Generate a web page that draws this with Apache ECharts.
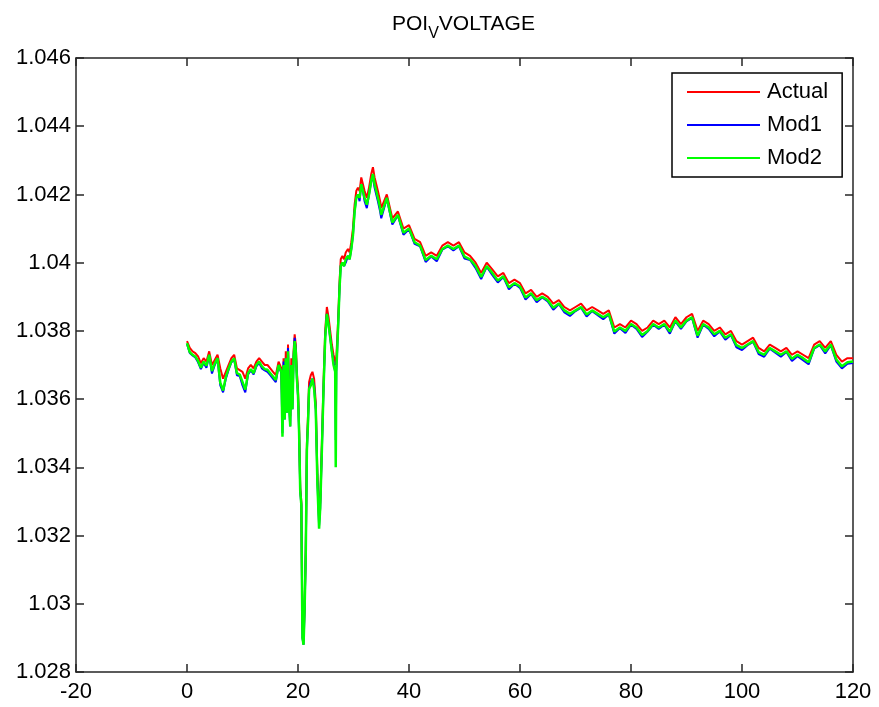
<!DOCTYPE html>
<html>
<head>
<meta charset="utf-8">
<script src="https://cdn.jsdelivr.net/npm/echarts@6/dist/echarts.min.js"></script>
<style>
  html, body { margin: 0; padding: 0; background: #fff; }
  #chart { width: 879px; height: 707px; }
</style>
</head>
<body>
<div id="chart"></div>
<script>
// time axis (s)
const timeValues = [
  0, 0.5, 1, 1.5, 2, 2.5, 3, 3.5, 4, 4.5, 5, 5.5, 6, 6.5, 7, 7.5, 8, 8.5, 9, 9.5,
  10, 10.5, 11, 11.5, 12, 12.5, 13, 13.5, 14, 14.5, 15, 15.5, 16, 16.5, 17,
  17.2, 17.4, 17.6, 17.8, 18.0, 18.2, 18.4, 18.6, 18.8, 19.0, 19.2, 19.4, 19.6, 19.8,
  20.0, 20.2, 20.4, 20.6, 20.8, 21.0, 21.2, 21.4, 21.6, 21.8, 22.0, 22.3, 22.6, 22.9,
  23.2, 23.5, 23.8, 24.0, 24.3, 24.6, 24.9, 25.2, 25.5, 25.8, 26.1, 26.4, 26.7, 26.8,
  26.9, 27.2, 27.5, 27.7, 28.0, 28.3, 28.6, 29.0, 29.3, 29.6, 29.9, 30.2, 30.5, 30.8,
  31.1, 31.4, 31.7, 32.0, 32.4, 32.8, 33.2, 33.5, 33.8, 34.1, 34.4, 34.8, 35.0,
  36, 37, 38, 39, 40, 41, 42, 43, 44, 45, 46, 47, 48, 49, 50, 51, 52, 53, 54, 55,
  56, 57, 58, 59, 60, 61, 62, 63, 64, 65, 66, 67, 68, 69, 70, 71, 72, 73, 74, 75,
  76, 77, 78, 79, 80, 81, 82, 83, 84, 85, 86, 87, 88, 89, 90, 91, 92, 93, 94, 95,
  96, 97, 98, 99, 100, 101, 102, 103, 104, 105, 106, 107, 108, 109, 110, 111, 112,
  113, 114, 115, 116, 117, 118, 119, 120
];

const actualValues = [
  1.03770, 1.03750, 1.03740, 1.03735, 1.03725, 1.03705, 1.03720, 1.03710, 1.03740, 1.03700,
  1.03715, 1.03730, 1.03690, 1.03660, 1.03680, 1.03700, 1.03720, 1.03730, 1.03690, 1.03685,
  1.03680, 1.03660, 1.03690, 1.03700, 1.03690, 1.03710, 1.03720, 1.03710, 1.03700, 1.03700,
  1.03690, 1.03680, 1.03670, 1.03710, 1.03690,
  1.0356, 1.0372, 1.0358, 1.0374, 1.0360, 1.0376, 1.0362, 1.0355, 1.0372, 1.0360, 1.0374,
  1.0379, 1.0376, 1.0368, 1.0363, 1.0352, 1.0334, 1.0330, 1.0293, 1.0290, 1.0300, 1.0316,
  1.0347, 1.0355, 1.0365, 1.0367, 1.0368, 1.0366, 1.0359, 1.0338, 1.0325, 1.0330, 1.0347,
  1.0365, 1.0380, 1.0387, 1.0384, 1.0380, 1.0376, 1.0373, 1.0371, 1.0370, 1.0372, 1.0382,
  1.0395, 1.0401, 1.0402, 1.0401, 1.0403, 1.0404, 1.0403, 1.0406, 1.0410, 1.0417, 1.0421,
  1.0422, 1.0421, 1.0425, 1.0423, 1.0421, 1.0419, 1.0422, 1.0426, 1.0428, 1.0425, 1.0423,
  1.0421, 1.0418, 1.0416,
  1.0420, 1.0413, 1.0415, 1.0410, 1.0411, 1.0407, 1.0406, 1.0402, 1.0403, 1.0402,
  1.0405, 1.0406, 1.0405, 1.0406, 1.0403, 1.0402, 1.0400, 1.0397, 1.0400, 1.0398,
  1.0396, 1.0397, 1.0394, 1.0395, 1.0394, 1.0391, 1.0392, 1.0390, 1.0391, 1.0390,
  1.0388, 1.0389, 1.0387, 1.0386, 1.0387, 1.0388, 1.0386, 1.0387, 1.0386, 1.0385,
  1.0386, 1.0381, 1.0382, 1.0381, 1.0383, 1.0382, 1.0380, 1.0381, 1.0383, 1.0382,
  1.0383, 1.0381, 1.0384, 1.0382, 1.0384, 1.0385, 1.0380, 1.0383, 1.0382, 1.0380,
  1.0381, 1.0379, 1.0380, 1.0377, 1.0376, 1.0377, 1.0378, 1.0375, 1.0374, 1.0376,
  1.0375, 1.0374, 1.0375, 1.0373, 1.0374, 1.0373, 1.0372, 1.0376, 1.0377, 1.0375,
  1.0377, 1.0373, 1.0371, 1.0372, 1.0372
];

const mod1Values = [
  1.03762, 1.03735, 1.03728, 1.03722, 1.03708, 1.03688, 1.03706, 1.03692, 1.03728, 1.03675,
  1.03700, 1.03718, 1.03640, 1.03620, 1.03660, 1.03686, 1.03708, 1.03716, 1.03670, 1.03668,
  1.03640, 1.03620, 1.03672, 1.03685, 1.03672, 1.03696, 1.03706, 1.03690, 1.03684, 1.03680,
  1.03670, 1.03660, 1.03650, 1.03698, 1.03676,
  1.0350, 1.0371, 1.0354, 1.0372, 1.0356, 1.0375, 1.0358, 1.0352, 1.0370, 1.0357, 1.0372,
  1.0378, 1.0374, 1.0366, 1.0361, 1.0350, 1.0333, 1.0329, 1.0290, 1.0288, 1.0299, 1.0315,
  1.0345, 1.0353, 1.0363, 1.0365, 1.0366, 1.0364, 1.0357, 1.0336, 1.0323, 1.0328, 1.0345,
  1.0363, 1.0378, 1.0385, 1.0382, 1.0378, 1.0374, 1.0371, 1.0368, 1.0348, 1.0368, 1.0380,
  1.0393, 1.0399, 1.0400, 1.0399, 1.0400, 1.0402, 1.0401, 1.0404, 1.0408, 1.0415, 1.0419,
  1.0420, 1.0418, 1.0423, 1.0421, 1.0418, 1.0416, 1.0420, 1.0424, 1.0425, 1.0422, 1.0420,
  1.0418, 1.0415, 1.0413,
  1.04188, 1.04112, 1.04138, 1.04082, 1.04098, 1.04055, 1.04048, 1.04002, 1.04018, 1.04004,
  1.04038, 1.04048, 1.04036, 1.04048, 1.04012, 1.04008, 1.03984, 1.03952, 1.03988, 1.03964,
  1.03942, 1.03958, 1.03922, 1.03938, 1.03926, 1.03892, 1.03908, 1.03884, 1.03898, 1.03886,
  1.03862, 1.03878, 1.03854, 1.03844, 1.03858, 1.03868, 1.03842, 1.03858, 1.03846, 1.03834,
  1.03848, 1.03792, 1.03808, 1.03794, 1.03818, 1.03806, 1.03782, 1.03798, 1.03818, 1.03806,
  1.03818, 1.03792, 1.03828, 1.03806, 1.03828, 1.03838, 1.03780, 1.03818, 1.03806, 1.03784,
  1.03798, 1.03774, 1.03788, 1.03752, 1.03744, 1.03758, 1.03768, 1.03732, 1.03724, 1.03748,
  1.03736, 1.03724, 1.03738, 1.03712, 1.03726, 1.03714, 1.03702, 1.03748, 1.03758, 1.03734,
  1.03758, 1.03710, 1.03690, 1.03704, 1.03706
];

const mod2Values = [
  1.03764, 1.03738, 1.03730, 1.03725, 1.03712, 1.03692, 1.03710, 1.03698, 1.03730, 1.03682,
  1.03704, 1.03720, 1.03648, 1.03625, 1.03665, 1.03690, 1.03710, 1.03720, 1.03676, 1.03672,
  1.03650, 1.03628, 1.03676, 1.03688, 1.03676, 1.03700, 1.03710, 1.03696, 1.03688, 1.03686,
  1.03676, 1.03666, 1.03656, 1.03700, 1.03680,
  1.0349, 1.0370, 1.0354, 1.0372, 1.0356, 1.0374, 1.0358, 1.0352, 1.0370, 1.0357, 1.0372,
  1.0377, 1.0374, 1.0366, 1.0361, 1.0350, 1.0333, 1.0329, 1.0290, 1.0288, 1.0299, 1.0315,
  1.0345, 1.0353, 1.0363, 1.0364, 1.0366, 1.0363, 1.0357, 1.0335, 1.0322, 1.0328, 1.0345,
  1.0363, 1.0378, 1.0385, 1.0382, 1.0378, 1.0374, 1.0370, 1.0368, 1.0340, 1.0368, 1.0380,
  1.0393, 1.0399, 1.0400, 1.0399, 1.0401, 1.0402, 1.0401, 1.0404, 1.0408, 1.0415, 1.0419,
  1.0420, 1.0419, 1.0423, 1.0421, 1.0419, 1.0417, 1.0420, 1.0424, 1.0426, 1.0423, 1.0421,
  1.0419, 1.0416, 1.0414,
  1.04190, 1.04118, 1.04140, 1.04088, 1.04100, 1.04060, 1.04050, 1.04008, 1.04020, 1.04010,
  1.04040, 1.04050, 1.04040, 1.04050, 1.04018, 1.04010, 1.03990, 1.03958, 1.03990, 1.03970,
  1.03948, 1.03960, 1.03928, 1.03940, 1.03930, 1.03898, 1.03910, 1.03890, 1.03900, 1.03890,
  1.03868, 1.03880, 1.03860, 1.03850, 1.03860, 1.03870, 1.03848, 1.03860, 1.03850, 1.03840,
  1.03850, 1.03798, 1.03810, 1.03800, 1.03820, 1.03810, 1.03788, 1.03800, 1.03820, 1.03810,
  1.03820, 1.03798, 1.03830, 1.03810, 1.03830, 1.03840, 1.03786, 1.03820, 1.03810, 1.03790,
  1.03800, 1.03780, 1.03790, 1.03758, 1.03750, 1.03760, 1.03770, 1.03738, 1.03730, 1.03750,
  1.03740, 1.03730, 1.03740, 1.03718, 1.03730, 1.03720, 1.03708, 1.03750, 1.03760, 1.03740,
  1.03760, 1.03716, 1.03696, 1.03708, 1.03710
];

const seriesNames = ['Actual', 'Mod1', 'Mod2'];
const seriesColors = ['#ff0000', '#0000ff', '#00ff00'];

const FONT = '"Liberation Sans", Arial, sans-serif';
const AXIS_COLOR = '#262626';

function pairs(ys) {
  return timeValues.map((t, i) => [t, ys[i]]);
}

const axisLineStyle = { color: AXIS_COLOR, width: 1.5 };

var chartDom = document.getElementById('chart');
var myChart = echarts.init(chartDom, null, { renderer: 'canvas' });

var option = {
  backgroundColor: '#fff',
  animation: false,
  title: {
    text: '{a|POI}{b|V}{a|VOLTAGE}',
    left: 387,
    top: 9,
    textStyle: {
      fontWeight: 'normal',
      rich: {
        a: { fontSize: 21, fontFamily: FONT, fontWeight: 'normal', color: '#000', lineHeight: 28, verticalAlign: 'top' },
        b: { fontSize: 16, fontFamily: FONT, fontWeight: 'normal', color: '#000', lineHeight: 28, verticalAlign: 'bottom' }
      }
    }
  },
  grid: { left: 76, right: 26, top: 58, bottom: 35, containLabel: false },
  legend: {
    orient: 'vertical',
    left: 672,
    top: 73,
    data: seriesNames,
    icon: 'rect',
    itemWidth: 73,
    itemHeight: 2,
    itemGap: 11,
    padding: [8, 14, 8, 15],
    backgroundColor: '#fff',
    borderColor: '#000',
    borderWidth: 1.5,
    borderRadius: 0,
    textStyle: { fontSize: 22, fontFamily: FONT, color: '#000', lineHeight: 22, padding: [0, 0, 0, 2] }
  },
  xAxis: [{
    type: 'value',
    min: -20,
    max: 120,
    interval: 20,
    position: 'bottom',
    axisLine: { onZero: false, lineStyle: axisLineStyle },
    axisTick: { inside: true, length: 8, lineStyle: axisLineStyle },
    axisLabel: { color: '#000', fontSize: 22, fontFamily: FONT, margin: 9 },
    splitLine: { show: false }
  }, {
    type: 'value',
    min: -20,
    max: 120,
    interval: 20,
    position: 'top',
    axisLine: { onZero: false, lineStyle: axisLineStyle },
    axisTick: { inside: true, length: 8, lineStyle: axisLineStyle },
    axisLabel: { show: false },
    splitLine: { show: false }
  }],
  yAxis: [{
    type: 'value',
    min: 1.028,
    max: 1.046,
    interval: 0.002,
    position: 'left',
    axisLine: { show: true, onZero: false, lineStyle: axisLineStyle },
    axisTick: { show: true, inside: true, length: 8, lineStyle: axisLineStyle },
    axisLabel: {
      color: '#000', fontSize: 22, fontFamily: FONT, margin: 5,
      formatter: function (v) { return String(parseFloat(v.toFixed(3))); }
    },
    splitLine: { show: false }
  }, {
    type: 'value',
    min: 1.028,
    max: 1.046,
    interval: 0.002,
    position: 'right',
    axisLine: { show: true, onZero: false, lineStyle: axisLineStyle },
    axisTick: { show: true, inside: true, length: 8, lineStyle: axisLineStyle },
    axisLabel: { show: false },
    splitLine: { show: false }
  }],
  series: [actualValues, mod1Values, mod2Values].map(function (ys, i) {
    return {
      name: seriesNames[i],
      type: 'line',
      data: pairs(ys),
      showSymbol: false,
      symbol: 'none',
      color: seriesColors[i],
      lineStyle: { color: seriesColors[i], width: i === 2 ? 2.5 : 2 },
      z: 2 + i
    };
  })
};

myChart.setOption(option);
</script>
</body>
</html>
